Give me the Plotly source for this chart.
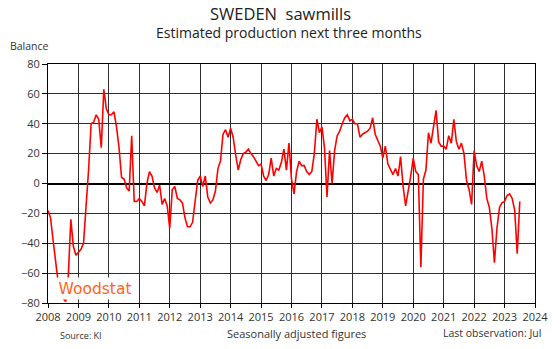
import plotly.graph_objects as go

# Monthly balance, Jan 2008 .. Jul 2023
start_year = 2008
balance = [
    # 2008
    -18, -23, -38, -53, -66, -73, -77, -79, -62, -24, -42, -48,
    # 2009
    -46, -44, -40, -16, 9, 40, 41, 46, 43, 24, 63, 50,
    # 2010
    46, 46, 48, 38, 24, 4, 3, -3, -5, 32, -12, -12,
    # 2011
    -10, -12, -15, 0, 8, 5, -3, -6, -1, -14, -10, -15,
    # 2012
    -30, -4, -2, -10, -11, -13, -23, -29, -29, -26, -10, 2,
    # 2013
    5, -2, 5, -9, -13, -11, -5, 10, 15, 33, 36, 31,
    # 2014
    37, 31, 19, 9, 16, 20, 21, 23, 20, 18, 15, 12,
    # 2015
    13, 5, 2, 6, 17, 5, 10, 9, 14, 23, 9, 27,
    # 2016
    3, -7, 8, 15, 12, 12, 8, 6, 8, 20, 43, 34,
    # 2017
    38, 24, -9, 22, 0, 22, 32, 35, 40, 44, 46, 42,
    # 2018
    43, 40, 40, 31, 33, 34, 35, 37, 44, 33, 29, 25,
    # 2019
    17, 25, 13, 10, 6, 10, 5, 18, -2, -15, -6, 5,
    # 2020
    17, 8, 6, -56, 3, 9, 34, 27, 38, 49, 28, 25,
    # 2021
    25, 23, 32, 27, 43, 28, 23, 27, 20, 2, -4, -14,
    # 2022
    22, 12, 8, 15, 5, -10, -16, -30, -53, -30, -16, -13,
    # 2023
    -12, -8, -7, -10, -18, -47, -12,
]
x_years = [start_year + i / 12 for i in range(len(balance))]

x_range = [2008, 2024]
y_range = [-80, 80]

title = "SWEDEN\u00a0 sawmills"
subtitle = "Estimated production next three months"
y_label = "Balance"
source = "Source: KI"
note = "Seasonally adjusted figures"
last_obs = "Last observation: Jul"
logo = "Woodstat"

W, H = 560, 349
L, R, T, B = 48, 19, 64, 46
pw, ph = W - L - R, H - T - B


def px(x):
    return (x - L) / pw


def py(y):
    return (H - B - y) / ph


fig = go.Figure()
fig.add_trace(go.Scatter(
    x=x_years, y=balance, mode="lines",
    line=dict(color="#ff0000", width=1.6),
    hoverinfo="skip",
))

text_col = "#333333"
ann = []
ann.append(dict(text=title, x=px(283), y=py(13), xref="paper", yref="paper",
                showarrow=False, xanchor="center", yanchor="middle",
                font=dict(size=16.5, color="#222222")))
ann.append(dict(text=subtitle, x=px(292), y=py(32), xref="paper", yref="paper",
                showarrow=False, xanchor="center", yanchor="middle",
                font=dict(size=14, color="#222222")))
ann.append(dict(text=y_label, x=px(8), y=py(46), xref="paper", yref="paper",
                showarrow=False, xanchor="left", yanchor="middle",
                font=dict(size=10.5, color=text_col)))
ann.append(dict(text=source, x=px(58), y=py(335), xref="paper", yref="paper",
                showarrow=False, xanchor="left", yanchor="middle",
                font=dict(size=9, color=text_col)))
ann.append(dict(text=note, x=px(300), y=py(333), xref="paper", yref="paper",
                showarrow=False, xanchor="center", yanchor="middle",
                font=dict(size=11, color=text_col)))
ann.append(dict(text=last_obs, x=px(549), y=py(333), xref="paper", yref="paper",
                showarrow=False, xanchor="right", yanchor="middle",
                font=dict(size=10.5, color=text_col)))
# logo box sits on top of the plot area and masks what lies beneath
ann.append(dict(text=logo, x=px(96), y=py(288), xref="paper", yref="paper",
                showarrow=False, xanchor="center", yanchor="middle",
                width=82, height=21, bgcolor="white", borderpad=0,
                font=dict(size=15.5, color="#ff6319", family="DejaVu Sans")))

axis_common = dict(
    showgrid=True, gridcolor="#2e2e2e", gridwidth=1,
    showline=True, linecolor="black", linewidth=1, mirror=True,
    ticks="outside", tickcolor="black", tickwidth=1,
    tickfont=dict(size=11, color=text_col),
    fixedrange=True,
)

fig.update_layout(
    width=W, height=H,
    margin=dict(l=L, r=R, t=T, b=B, pad=0),
    paper_bgcolor="white", plot_bgcolor="white",
    font=dict(family="Open Sans", color=text_col),
    showlegend=False,
    annotations=ann,
    xaxis=dict(range=x_range, tick0=2008, dtick=1, tickformat="d",
               ticklen=4, zeroline=False, **axis_common),
    yaxis=dict(range=y_range, tick0=-80, dtick=20, ticklen=5,
               zeroline=True, zerolinecolor="black", zerolinewidth=2,
               **axis_common),
)

fig.write_html("out.html", config={"displayModeBar": False})
